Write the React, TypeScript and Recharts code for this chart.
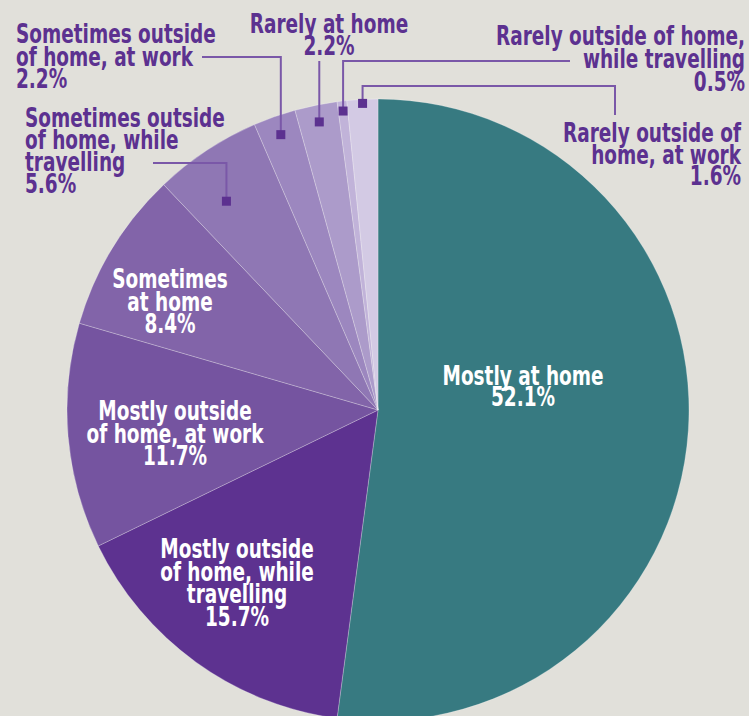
import React from 'react';
import { PieChart, Pie, Cell } from 'recharts';

const categories: string[] = [
  'Mostly at home',
  'Mostly outside of home, while travelling',
  'Mostly outside of home, at work',
  'Sometimes at home',
  'Sometimes outside of home, while travelling',
  'Sometimes outside of home, at work',
  'Rarely at home',
  'Rarely outside of home, while travelling',
  'Rarely outside of home, at work',
];
const shares: number[] = [52.1, 15.7, 11.7, 8.4, 5.6, 2.2, 2.2, 0.5, 1.6];

const colors: string[] = [
  '#377a81', '#5d3290', '#7554a0', '#8264a9', '#8f77b4', '#9c87bf', '#ac9bca', '#c1b3d9', '#d3cae4',
];

const BG = '#e1e0da';
const PURPLE = '#5c3190';
const LEADER = '#7a58a8';
const FONT = "'DejaVu Sans Condensed', 'Liberation Sans Narrow', sans-serif";
const FONT_SIZE = 26;
const SCALE_X = 0.79;
const RADIAN = Math.PI / 180;

type Layout = {
  lines: string[];
  anchor: 'start' | 'middle' | 'end';
  x: number;
  y: number;
  lh: number;
  inside?: boolean;
  markerR?: number;
  markerDA?: number;
  elbowY?: number;
  endX?: number;
  dropY?: number;
};

// label placement, same order as categories
const layouts: Layout[] = [
  { lines: ['Mostly at home'], anchor: 'middle', x: 523, y: 385, lh: 21, inside: true },
  { lines: ['Mostly outside', 'of home, while', 'travelling'], anchor: 'middle', x: 237, y: 558, lh: 22.5, inside: true },
  { lines: ['Mostly outside', 'of home, at work'], anchor: 'middle', x: 175, y: 420, lh: 22.5, inside: true },
  { lines: ['Sometimes', 'at home'], anchor: 'middle', x: 170, y: 288, lh: 22.5, inside: true },
  { lines: ['Sometimes outside', 'of home, while', 'travelling'], anchor: 'start', x: 25, y: 127, lh: 22, markerR: 258, markerDA: 2.5, elbowY: 163, endX: 153 },
  { lines: ['Sometimes outside', 'of home, at work'], anchor: 'start', x: 16, y: 43, lh: 22.5, markerR: 292, elbowY: 57, endX: 202 },
  { lines: ['Rarely at home'], anchor: 'middle', x: 329, y: 33, lh: 22, markerR: 294, elbowY: 61 },
  { lines: ['Rarely outside of home,', 'while travelling'], anchor: 'end', x: 745, y: 45, lh: 23, markerR: 301, elbowY: 61, endX: 570 },
  { lines: ['Rarely outside of', 'home, at work'], anchor: 'end', x: 741, y: 142, lh: 21.5, markerR: 307, elbowY: 86, endX: 615, dropY: 115 },
];

const MultiLine = ({ x, y, lines, anchor, lh, fill }: { x: number; y: number; lines: string[]; anchor: 'start' | 'middle' | 'end'; lh: number; fill: string }) => (
  <g>
    {lines.map((line, i) => (
      <text
        key={i}
        x={0}
        y={0}
        transform={`translate(${x},${y + i * lh}) scale(${SCALE_X},1)`}
        textAnchor={anchor}
        fill={fill}
        fontFamily={FONT}
        fontWeight="bold"
        fontSize={FONT_SIZE}
      >
        {line}
      </text>
    ))}
  </g>
);

const renderLabel = (props: any) => {
  const { cx, cy, midAngle, index } = props;
  const layout = layouts[index];
  const lines = [...layout.lines, `${shares[index].toFixed(1)}%`];
  if (layout.inside) {
    return (
      <g key={`lbl-${index}`}>
        <MultiLine x={layout.x} y={layout.y} lines={lines} anchor={layout.anchor} lh={layout.lh} fill="#ffffff" />
      </g>
    );
  }
  const r = layout.markerR as number;
  const a = midAngle + (layout.markerDA || 0);
  const mx = cx + r * Math.cos(-a * RADIAN);
  const my = cy + r * Math.sin(-a * RADIAN);
  const ey = layout.elbowY as number;
  let path = `M${mx},${my} L${mx},${ey}`;
  if (layout.endX !== undefined) path += ` L${layout.endX},${ey}`;
  if (layout.dropY !== undefined) path += ` L${layout.endX},${layout.dropY}`;
  return (
    <g key={`lbl-${index}`}>
      <path d={path} stroke={LEADER} strokeWidth={2} fill="none" />
      <rect x={mx - 4.5} y={my - 4.5} width={9} height={9} fill={PURPLE} />
      <MultiLine x={layout.x} y={layout.y} lines={lines} anchor={layout.anchor} lh={layout.lh} fill={PURPLE} />
    </g>
  );
};

const data = categories.map((name, i) => ({ name, value: shares[i] }));

export default function App() {
  return (
    <div style={{ position: 'absolute', left: 0, top: 0, width: 749, height: 716, background: BG, overflow: 'hidden' }}>
      <PieChart width={749} height={716} margin={{ top: 0, right: 0, bottom: 0, left: 0 }}>
        <Pie
          data={data}
          dataKey="value"
          nameKey="name"
          cx={378}
          cy={410}
          outerRadius={311}
          startAngle={90}
          endAngle={-270}
          stroke="rgba(255,255,255,0.25)"
          strokeWidth={1}
          label={renderLabel}
          labelLine={false}
          isAnimationActive={false}
        >
          {data.map((entry, i) => (
            <Cell key={entry.name} fill={colors[i]} />
          ))}
        </Pie>
      </PieChart>
    </div>
  );
}
